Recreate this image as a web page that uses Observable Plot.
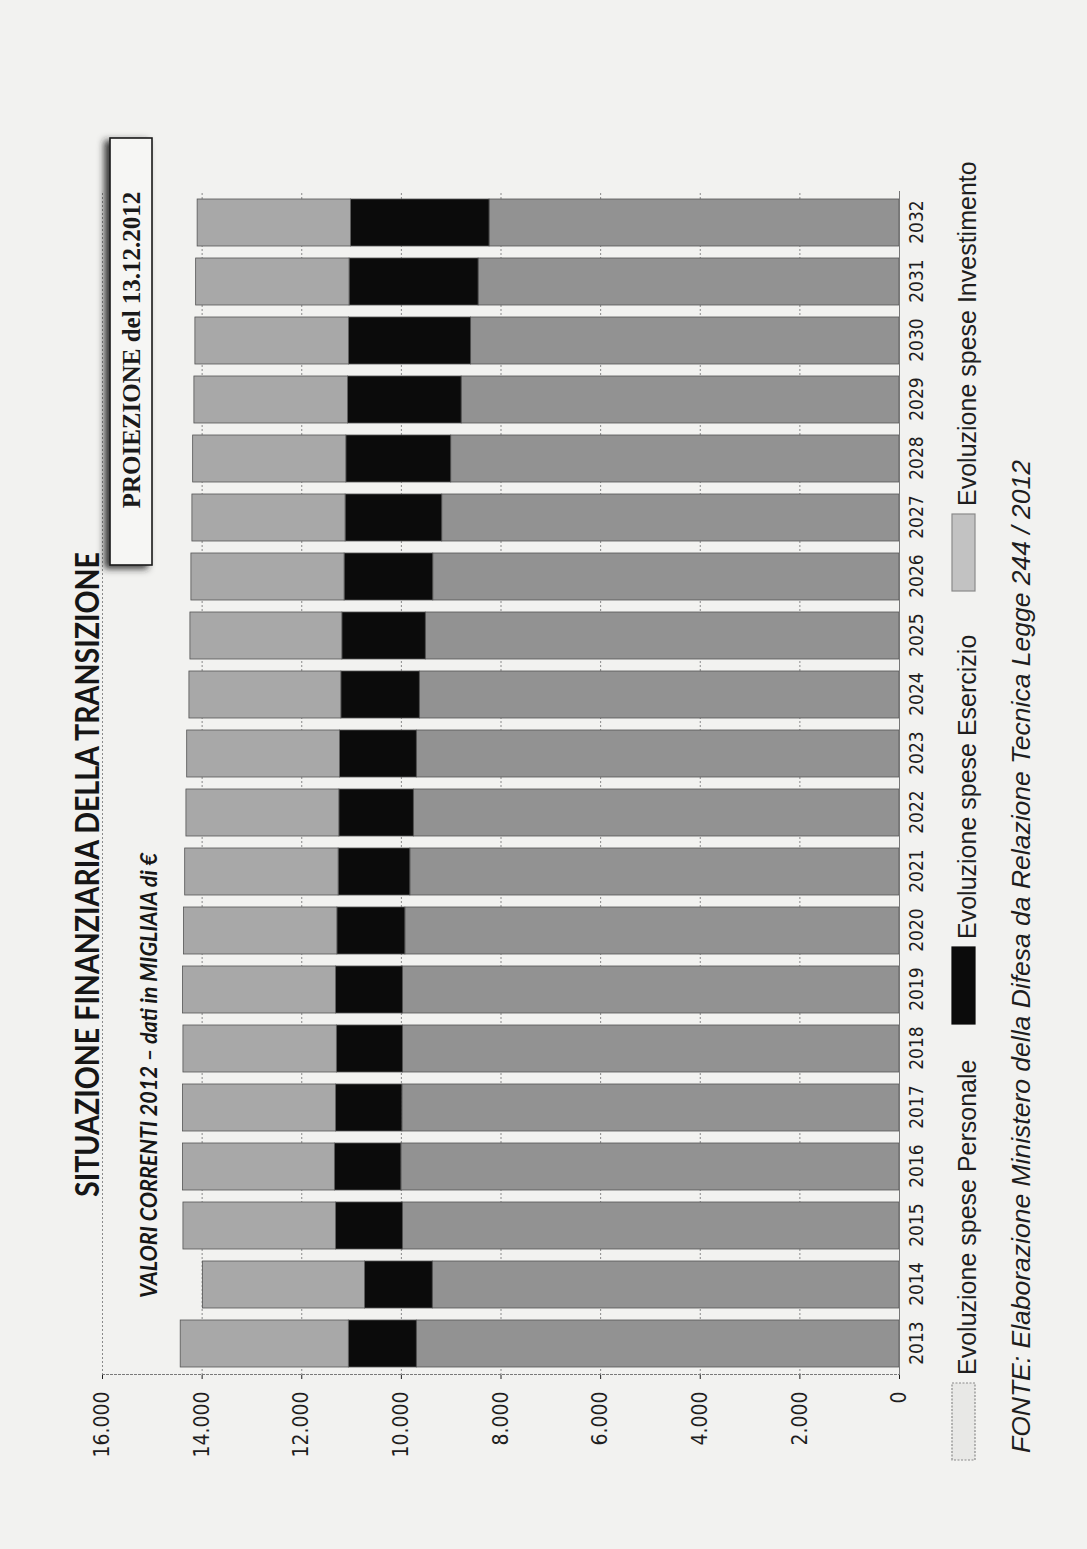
<!DOCTYPE html>
<html>
<head>
<meta charset="utf-8">
<script src="https://cdn.jsdelivr.net/npm/d3@7"></script>
<script src="https://cdn.jsdelivr.net/npm/@observablehq/plot@0.6"></script>
<style>
  html, body { margin: 0; padding: 0; background: #f2f2f0; }
  body { width: 1087px; height: 1549px; overflow: hidden; position: relative; }
  #stage {
    position: absolute; left: 0; top: 0; width: 1549px; height: 1087px;
    transform-origin: 0 0; transform: translate(0px, 1549px) rotate(-90deg);
  }
  #stage > * { position: absolute; left: 0; top: 0; }
</style>
</head>
<body>
<div id="stage"></div>
<script>
// ---- data (migliaia di €) ----
const years = ["2013","2014","2015","2016","2017","2018","2019","2020","2021","2022",
               "2023","2024","2025","2026","2027","2028","2029","2030","2031","2032"];
const personale    = [9690, 9370, 9970, 10000, 9980, 9970, 9970, 9920, 9820, 9750,
                      9690, 9630, 9510, 9360, 9180, 9000, 8790, 8600, 8450, 8230];
const esercizio    = [1365, 1360, 1340, 1335, 1330, 1325, 1340, 1365, 1440, 1495,
                      1540, 1575, 1675, 1780, 1940, 2105, 2280, 2450, 2590, 2780];
const investimento = [3375, 3255, 3065, 3050, 3075, 3080, 3075, 3080, 3080, 3070,
                      3070, 3050, 3050, 3075, 3075, 3075, 3085, 3085, 3080, 3080];
const series = ["Evoluzione spese Personale", "Evoluzione spese Esercizio", "Evoluzione spese Investimento"];
const seriesColors = ["#929292", "#0b0b0b", "#a8a8a8"];
const legendColors = ["#e8e8e6", "#0b0b0b", "#c2c2c2"];
const yTicks = [0, 2000, 4000, 6000, 8000, 10000, 12000, 14000, 16000];
const yTickLabels = ["0", "2.000", "4.000", "6.000", "8.000", "10.000", "12.000", "14.000", "16.000"];
const title = "SITUAZIONE FINANZIARIA DELLA TRANSIZIONE";
const subtitle = "VALORI CORRENTI 2012 \u2013 dati in MIGLIAIA di \u20ac";
const badge = "PROIEZIONE del 13.12.2012";
const source = "FONTE: Elaborazione Ministero della Difesa da Relazione Tecnica Legge 244 / 2012";

const valuesBySeries = [personale, esercizio, investimento];
const rows = [];
years.forEach((y, i) => series.forEach((s, k) => rows.push({year: y, serie: s, value: valuesBySeries[k][i]})));

const W = 1549, H = 1087;
const narrow = "'Liberation Sans Narrow', 'DejaVu Sans Condensed', 'Liberation Sans', sans-serif";

const chart = Plot.plot({
  width: W, height: H,
  marginLeft: 174, marginRight: 191, marginTop: 102, marginBottom: 188,
  style: {background: "transparent", fontFamily: narrow, fontSize: "21px", color: "#1e1e1e"},
  x: {type: "band", domain: years, paddingInner: 0.2, paddingOuter: 0.1, label: null},
  y: {domain: [0, 16000], label: null},
  color: {domain: series, range: seriesColors},
  marks: [
    Plot.ruleY(yTicks.filter(d => d > 0), {stroke: "#8a8a8a", strokeWidth: 1, strokeDasharray: "2,2"}),
    Plot.frame({anchor: "left", stroke: "#7a7a7a", strokeDasharray: "2,2"}),
    Plot.barY(rows, {x: "year", y: "value", fill: "serie", stroke: "#555", strokeWidth: 0.8}),
    Plot.ruleY([0], {stroke: "#777", strokeWidth: 1}),
    Plot.axisY({ticks: yTicks, tickFormat: (d) => yTickLabels[yTicks.indexOf(d)], tickSize: 4, tickPadding: 13, fontSize: 21, label: null}),
    Plot.axisX({tickSize: 0, tickPadding: 10, fontSize: 19, label: null})
  ]
});
const stage = document.getElementById("stage");
stage.appendChild(chart);

// ---- annotations overlay (titles, badge, legend, source) ----
const svg = d3.select(stage).append("svg")
  .attr("width", W).attr("height", H)
  .style("overflow", "visible");

const defs = svg.append("defs");
defs.append("filter").attr("id", "shadow").attr("x", "-10%").attr("y", "-60%").attr("width", "120%").attr("height", "220%")
  .append("feDropShadow").attr("dx", -3).attr("dy", -5).attr("stdDeviation", 3.5).attr("flood-color", "#222").attr("flood-opacity", 0.9);

svg.append("text").text(title)
  .attr("x", 352).attr("y", 99)
  .attr("font-family", "Lato, 'Open Sans', sans-serif").attr("font-weight", 700).attr("font-size", 32)
  .attr("textLength", 645).attr("lengthAdjust", "spacingAndGlyphs").attr("fill", "#161616");

svg.append("text").text(subtitle)
  .attr("x", 251).attr("y", 157)
  .attr("font-family", "Lato, 'Open Sans', sans-serif").attr("font-weight", 700).attr("font-style", "italic").attr("font-size", 22)
  .attr("textLength", 445).attr("lengthAdjust", "spacingAndGlyphs").attr("fill", "#161616");

svg.append("rect")
  .attr("x", 984).attr("y", 110).attr("width", 427).attr("height", 42)
  .attr("fill", "#f6f6f4").attr("stroke", "#1a1a1a").attr("stroke-width", 1.6)
  .attr("filter", "url(#shadow)");
svg.append("text").text(badge)
  .attr("x", 1199).attr("y", 140).attr("text-anchor", "middle")
  .attr("font-family", "'Liberation Serif', 'DejaVu Serif', serif").attr("font-weight", 700).attr("font-size", 25)
  .attr("fill", "#1a1a1a");

// legend
const legendX = [89, 525, 958];
series.forEach((s, k) => {
  svg.append("rect")
    .attr("x", legendX[k]).attr("y", 952).attr("width", 77).attr("height", 23)
    .attr("fill", legendColors[k])
    .attr("stroke", k === 1 ? "#0b0b0b" : "#8a8a8a").attr("stroke-width", 1.2)
    .attr("stroke-dasharray", k === 0 ? "2,1.5" : null);
  svg.append("text").text(s)
    .attr("x", legendX[k] + 85).attr("y", 976)
    .attr("font-family", "'Liberation Sans', Arial, sans-serif").attr("font-size", 25)
    .attr("fill", "#1e1e1e");
});

svg.append("text").text(source)
  .attr("x", 96).attr("y", 1030)
  .attr("font-family", "'Liberation Sans', Arial, sans-serif").attr("font-style", "italic").attr("font-size", 26)
  .attr("textLength", 993).attr("lengthAdjust", "spacingAndGlyphs")
  .attr("fill", "#1e1e1e");
</script>
</body>
</html>
